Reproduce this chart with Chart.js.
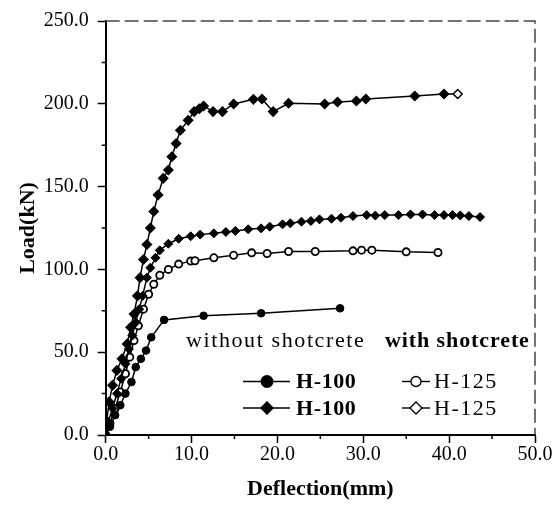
<!DOCTYPE html>
<html>
<head>
<meta charset="utf-8">
<script src="https://cdn.jsdelivr.net/npm/chart.js@4/dist/chart.umd.min.js"></script>
<style>
  html, body { margin: 0; padding: 0; background: #fff; }
  #wrap { position: relative; width: 559px; height: 506px; }
  canvas { position: absolute; left: 0; top: 0; }
  .lg { position: absolute; font-family: 'Liberation Serif', serif; font-size: 22px; line-height: 24px; color: #000; white-space: nowrap; }
  .b { font-weight: bold; }
  svg { position: absolute; left: 0; top: 0; }
</style>
</head>
<body>
<div id="wrap">
  <canvas id="c" width="559" height="506"></canvas>
  <svg width="559" height="506" id="lgsvg"></svg>
  <div class="lg" style="left:186px; top:328px; letter-spacing:1.6px;">without shotcrete</div>
  <div class="lg b" style="left:385px; top:328px; letter-spacing:0.9px;">with shotcrete</div>
  <div class="lg b" style="left:296px; top:369px; letter-spacing:0.6px;">H-100</div>
  <div class="lg b" style="left:296px; top:396px; letter-spacing:0.6px;">H-100</div>
  <div class="lg" style="left:434px; top:369px; letter-spacing:1.5px;">H-125</div>
  <div class="lg" style="left:434px; top:396px; letter-spacing:1.5px;">H-125</div>
</div>
<script>
// ---- data ----
const xTicks = [0, 10, 20, 30, 40, 50];
const yTicks = [0, 50, 100, 150, 200, 250];
const xMinor = [5, 15, 25, 35, 45];
const yMinor = [25, 75, 125, 175, 225];

// H-100 without shotcrete (filled circles)
const h100NoX = [0, 0.5, 1.1, 1.7, 2.3, 3.0, 3.5, 4.1, 4.7, 5.3, 6.8, 11.4, 18.1, 27.3];
const h100NoY = [0, 5, 12, 18, 25, 32, 41, 46, 51, 59, 69.5, 72, 73.5, 76.5];

// H-100 (filled diamonds, ~133 kN plateau)
const h100WX = [0, 0.3, 0.8, 1.3, 1.8, 2.3, 2.7, 3.1, 3.5, 3.9, 4.3, 4.8, 5.2, 5.8, 6.3, 7.3, 8.5, 9.9, 11.0, 12.6, 14.0, 15.1, 16.6, 18.1, 19.1, 20.6, 21.5, 22.8, 23.9, 24.9, 26.3, 27.4, 28.8, 30.4, 31.4, 32.5, 34.1, 35.5, 36.9, 38.3, 39.4, 40.4, 41.3, 42.3, 43.6];
const h100WY = [0, 8, 16, 25, 34, 43, 52, 60, 68, 76, 84, 95, 101, 107, 111.5, 115.5, 118.5, 120, 121, 121.8, 122.6, 123.2, 124.2, 124.8, 125.8, 127.2, 127.8, 128.8, 129.2, 130.2, 130.6, 131.2, 132.2, 132.8, 132.5, 132.8, 132.8, 133.2, 133.2, 132.8, 132.8, 132.8, 132.6, 132.2, 131.6];

// H-125 (open circles, ~112 kN plateau)
const h125NoX = [0, 0.5, 1.1, 1.7, 2.3, 2.8, 3.3, 3.8, 4.4, 5.0, 5.6, 6.3, 7.3, 8.5, 9.9, 10.4, 12.6, 14.9, 17.0, 18.8, 21.3, 24.4, 28.8, 29.8, 31.0, 35.0, 38.7];
const h125NoY = [0, 7, 16, 26, 37, 47, 57, 66, 76, 85, 91, 96.5, 100, 103.2, 105, 105.2, 107, 108.5, 110, 109.6, 110.8, 110.8, 111.2, 111.6, 111.6, 110.6, 110.2];

// H-125 (diamonds, ~205 kN plateau)
const h125WX = [0, 0.1, 0.4, 0.8, 1.3, 1.9, 2.5, 2.9, 3.3, 3.7, 4.0, 4.4, 4.8, 5.2, 5.6, 6.1, 6.7, 7.3, 7.7, 8.2, 8.7, 9.6, 10.3, 10.9, 11.4, 12.5, 13.6, 14.9, 17.2, 18.2, 19.5, 21.3, 25.5, 27.0, 29.2, 30.3, 36.0, 39.4, 41.0];
const h125WY = [0, 8, 20, 30, 39, 46, 55, 65, 73, 84, 95, 106, 115, 125, 135, 145, 155, 160, 168, 176, 184, 190, 195.3, 197, 198.7, 195.3, 195.3, 199.9, 202.7, 202.9, 195.3, 200.3, 199.9, 201.1, 201.7, 202.9, 204.7, 205.9, 205.9];

const pts = (xs, ys) => xs.map((x, i) => ({ x: x, y: ys[i] }));

// ---- legend marker sketches (decorative) ----
(function () {
  const ns = 'http://www.w3.org/2000/svg';
  const svg = document.getElementById('lgsvg');
  function el(tag, attrs) { const e = document.createElementNS(ns, tag); for (const k in attrs) e.setAttribute(k, attrs[k]); svg.appendChild(e); }
  const rows = [381.5, 408];
  el('line', { x1: 243, y1: rows[0], x2: 290, y2: rows[0], stroke: '#000', 'stroke-width': 1.6 });
  el('circle', { cx: 267, cy: rows[0], r: 6.5, fill: '#000' });
  el('line', { x1: 243, y1: rows[1], x2: 290, y2: rows[1], stroke: '#000', 'stroke-width': 1.6 });
  el('polygon', { points: `${267},${rows[1]-7} ${274},${rows[1]} ${267},${rows[1]+7} ${260},${rows[1]}`, fill: '#000' });
  el('line', { x1: 402, y1: rows[0], x2: 430, y2: rows[0], stroke: '#000', 'stroke-width': 1.4 });
  el('circle', { cx: 416, cy: rows[0], r: 5, fill: '#fff', stroke: '#000', 'stroke-width': 1.4 });
  el('line', { x1: 402, y1: rows[1], x2: 430, y2: rows[1], stroke: '#000', 'stroke-width': 1.4 });
  el('polygon', { points: `${416},${rows[1]-6} ${422},${rows[1]} ${416},${rows[1]+6} ${410},${rows[1]}`, fill: '#fff', stroke: '#000', 'stroke-width': 1.4 });
})();

const serif = "'Liberation Serif', 'DejaVu Serif', serif";

const framePlugin = {
  id: 'frame',
  afterDraw(chart) {
    const a = chart.chartArea, ctx = chart.ctx;
    const xs = chart.scales.x, ys = chart.scales.y;
    ctx.save();
    ctx.strokeStyle = '#444';
    ctx.lineWidth = 1.5;
    ctx.setLineDash([14, 5]);
    ctx.beginPath();
    ctx.moveTo(a.left, a.top);
    ctx.lineTo(a.right, a.top);
    ctx.lineTo(a.right, a.bottom);
    ctx.stroke();
    // short minor ticks
    ctx.setLineDash([]);
    ctx.strokeStyle = '#000';
    ctx.lineWidth = 1.5;
    ctx.beginPath();
    xMinor.forEach((v) => { const p = xs.getPixelForValue(v); ctx.moveTo(p, a.bottom); ctx.lineTo(p, a.bottom + 4); });
    yMinor.forEach((v) => { const p = ys.getPixelForValue(v); ctx.moveTo(a.left, p); ctx.lineTo(a.left - 4, p); });
    ctx.stroke();
    ctx.restore();
  }
};

const majorOnly = (list) => (c) => (c.tick && list.includes(c.tick.value) ? '#000' : 'rgba(0,0,0,0)');

new Chart(document.getElementById('c'), {
  type: 'scatter',
  data: {
    datasets: [
      {
        label: 'H-100 (without shotcrete)',
        data: pts(h100NoX, h100NoY),
        showLine: true, borderColor: '#000', borderWidth: 1.5,
        pointStyle: 'circle', pointRadius: 3.8, pointBackgroundColor: '#000', pointBorderColor: '#000', pointBorderWidth: 1
      },
      {
        label: 'H-100',
        data: pts(h100WX, h100WY),
        showLine: true, borderColor: '#000', borderWidth: 1.5,
        pointStyle: 'rectRot', pointRadius: 4.5, pointBackgroundColor: '#000', pointBorderColor: '#000', pointBorderWidth: 1
      },
      {
        label: 'H-125 (without shotcrete)',
        data: pts(h125NoX, h125NoY),
        showLine: true, borderColor: '#000', borderWidth: 1.5,
        pointStyle: 'circle', pointRadius: 3.6, pointBackgroundColor: '#fff', pointBorderColor: '#000', pointBorderWidth: 1.8
      },
      {
        label: 'H-125 (with shotcrete)',
        data: pts(h125WX, h125WY),
        showLine: true, borderColor: '#000', borderWidth: 1.5,
        pointStyle: 'rectRot', pointRadius: 4.5,
        pointBackgroundColor: (c) => (c.dataIndex === h125WX.length - 1 ? '#fff' : '#000'),
        pointBorderColor: '#000', pointBorderWidth: 1.5
      }
    ]
  },
  options: {
    responsive: false,
    animation: false,
    layout: { padding: { top: 19, right: 24, left: 0, bottom: 0 } },
    plugins: { legend: { display: false }, tooltip: { enabled: false } },
    scales: {
      x: {
        type: 'linear', min: 0, max: 50,
        afterFit: (s) => { s.height = 71; },
        border: { display: true, color: '#000', width: 2 },
        grid: { drawOnChartArea: false, color: '#000', tickColor: majorOnly(xTicks), tickLength: 8, tickWidth: 1.5 },
        ticks: {
          stepSize: 5, autoSkip: false, maxRotation: 0, padding: 0,
          color: '#000', font: { family: serif, size: 20 },
          callback: (v) => (xTicks.includes(v) ? v.toFixed(1) : '')
        },
        title: { display: true, text: 'Deflection(mm)', color: '#000', font: { family: serif, size: 22, weight: 'bold' }, padding: { top: 0, bottom: 3 } }
      },
      y: {
        type: 'linear', min: 0, max: 250,
        afterFit: (s) => { s.width = 105.7; },
        border: { display: true, color: '#000', width: 2 },
        grid: { drawOnChartArea: false, color: '#000', tickColor: majorOnly(yTicks), tickLength: 8, tickWidth: 1.5 },
        ticks: {
          stepSize: 25, autoSkip: false, padding: 9,
          color: '#000', font: { family: serif, size: 20 },
          callback: (v) => (yTicks.includes(v) ? v.toFixed(1) : '')
        },
        title: { display: true, text: 'Load(kN)', color: '#000', font: { family: serif, size: 22, weight: 'bold' }, padding: { top: 15, bottom: 0 } }
      }
    }
  },
  plugins: [framePlugin]
});
</script>
</body>
</html>
